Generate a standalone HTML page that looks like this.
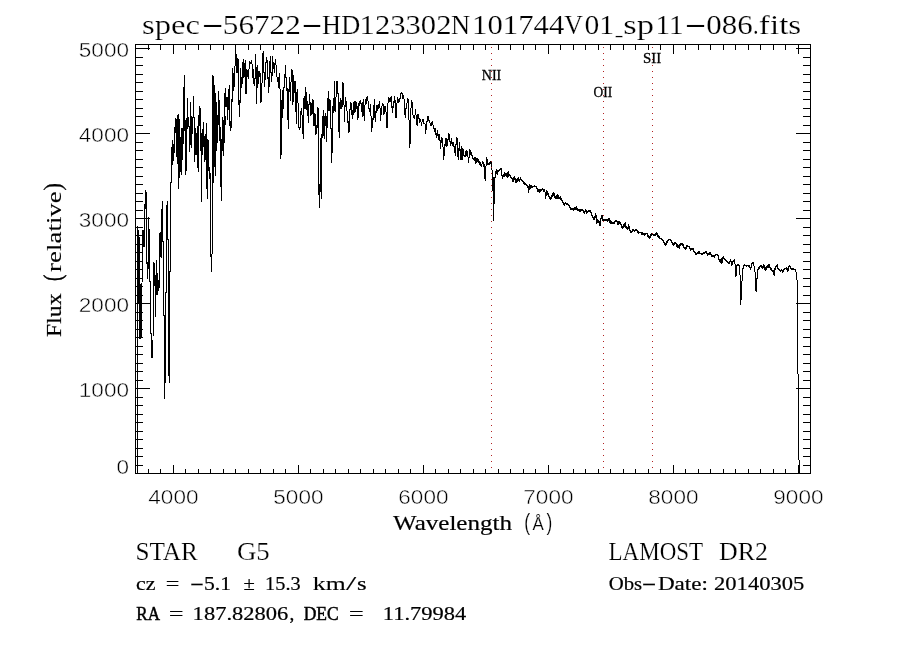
<!DOCTYPE html>
<html lang="en"><head><meta charset="utf-8"><title>spec-56722-HD123302N101744V01_sp11-086.fits</title>
<style>
html,body{margin:0;padding:0;background:#fff;}
body{width:900px;height:650px;overflow:hidden;}
svg{display:block;will-change:transform;}
text{fill:#000;}
.ser{font-family:"Liberation Serif","DejaVu Serif",serif;}
.san{font-family:"Liberation Sans","DejaVu Sans",sans-serif;}
.thin{stroke:#fff;stroke-width:0.45px;paint-order:fill;}
.med{stroke:#000;}
.t2{stroke:#fff;stroke-width:0.2px;paint-order:fill;}
</style></head><body>
<svg width="900" height="650" viewBox="0 0 900 650">
<rect x="0" y="0" width="900" height="650" fill="#fff"/>
<path d="M135 44.5H811M135 473.5H811M135.5 44V474M810.5 44V474M148.5 45v5M148.5 473v-4M160.5 45v5M160.5 473v-4M173.5 45v9M173.5 473v-8M185.5 45v5M185.5 473v-4M198.5 45v5M198.5 473v-4M210.5 45v5M210.5 473v-4M223.5 45v5M223.5 473v-4M235.5 45v5M235.5 473v-4M248.5 45v5M248.5 473v-4M260.5 45v5M260.5 473v-4M273.5 45v5M273.5 473v-4M285.5 45v5M285.5 473v-4M298.5 45v9M298.5 473v-8M310.5 45v5M310.5 473v-4M323.5 45v5M323.5 473v-4M335.5 45v5M335.5 473v-4M348.5 45v5M348.5 473v-4M360.5 45v5M360.5 473v-4M373.5 45v5M373.5 473v-4M385.5 45v5M385.5 473v-4M398.5 45v5M398.5 473v-4M410.5 45v5M410.5 473v-4M423.5 45v9M423.5 473v-8M435.5 45v5M435.5 473v-4M448.5 45v5M448.5 473v-4M460.5 45v5M460.5 473v-4M473.5 45v5M473.5 473v-4M485.5 45v5M485.5 473v-4M498.5 45v5M498.5 473v-4M510.5 45v5M510.5 473v-4M523.5 45v5M523.5 473v-4M535.5 45v5M535.5 473v-4M548.5 45v9M548.5 473v-8M560.5 45v5M560.5 473v-4M573.5 45v5M573.5 473v-4M585.5 45v5M585.5 473v-4M598.5 45v5M598.5 473v-4M610.5 45v5M610.5 473v-4M623.5 45v5M623.5 473v-4M635.5 45v5M635.5 473v-4M648.5 45v5M648.5 473v-4M660.5 45v5M660.5 473v-4M673.5 45v9M673.5 473v-8M685.5 45v5M685.5 473v-4M698.5 45v5M698.5 473v-4M710.5 45v5M710.5 473v-4M723.5 45v5M723.5 473v-4M735.5 45v5M735.5 473v-4M748.5 45v5M748.5 473v-4M760.5 45v5M760.5 473v-4M773.5 45v5M773.5 473v-4M785.5 45v5M785.5 473v-4M798.5 45v9M798.5 473v-8M136 465.5h7M810 465.5h-7M136 456.5h7M810 456.5h-7M136 448.5h7M810 448.5h-7M136 439.5h7M810 439.5h-7M136 431.5h7M810 431.5h-7M136 422.5h7M810 422.5h-7M136 414.5h7M810 414.5h-7M136 405.5h7M810 405.5h-7M136 397.5h7M810 397.5h-7M136 388.5h14M810 388.5h-14M136 380.5h7M810 380.5h-7M136 371.5h7M810 371.5h-7M136 363.5h7M810 363.5h-7M136 354.5h7M810 354.5h-7M136 346.5h7M810 346.5h-7M136 337.5h7M810 337.5h-7M136 329.5h7M810 329.5h-7M136 320.5h7M810 320.5h-7M136 312.5h7M810 312.5h-7M136 303.5h14M810 303.5h-14M136 295.5h7M810 295.5h-7M136 286.5h7M810 286.5h-7M136 278.5h7M810 278.5h-7M136 269.5h7M810 269.5h-7M136 261.5h7M810 261.5h-7M136 252.5h7M810 252.5h-7M136 244.5h7M810 244.5h-7M136 235.5h7M810 235.5h-7M136 227.5h7M810 227.5h-7M136 218.5h14M810 218.5h-14M136 210.5h7M810 210.5h-7M136 201.5h7M810 201.5h-7M136 193.5h7M810 193.5h-7M136 184.5h7M810 184.5h-7M136 176.5h7M810 176.5h-7M136 167.5h7M810 167.5h-7M136 159.5h7M810 159.5h-7M136 150.5h7M810 150.5h-7M136 142.5h7M810 142.5h-7M136 133.5h14M810 133.5h-14M136 125.5h7M810 125.5h-7M136 116.5h7M810 116.5h-7M136 108.5h7M810 108.5h-7M136 99.5h7M810 99.5h-7M136 91.5h7M810 91.5h-7M136 82.5h7M810 82.5h-7M136 74.5h7M810 74.5h-7M136 65.5h7M810 65.5h-7M136 57.5h7M810 57.5h-7M136 48.5h14M810 48.5h-14" stroke="#000" stroke-width="1" fill="none" shape-rendering="crispEdges"/>
<path d="M137.5 226V474M138.5 230V303M139.5 237V339M140.5 284V339M141.5 283V337M142.5 230V282M143.5 230V247M144.5 204V247M145.5 190V209M146.5 192V264M147.5 262V279M148.5 217V269M149.5 218V219M149.5 229V282M150.5 281V334M151.5 333V358M152.5 340V358M153.5 262V336M154.5 263V286M155.5 275V317M156.5 260V295M157.5 273V295M158.5 280V291M159.5 233V288M160.5 232V257M161.5 209V258M162.5 201V242M163.5 241V316M164.5 315V399M165.5 292V383M166.5 205V293M167.5 201V240M168.5 239V376M169.5 271V383M170.5 182V272M171.5 147V183M172.5 140V165M173.5 144V161M174.5 127V153M175.5 118V133M176.5 119V157M177.5 115V164M178.5 114V189M179.5 119V178M180.5 137V172M181.5 128V175M182.5 128V160M183.5 87V144M184.5 75V131M185.5 120V175M186.5 118V171M187.5 98V129M188.5 117V127M189.5 126V152M190.5 102V145M191.5 116V148M192.5 117V134M193.5 96V118M194.5 117V162M195.5 128V155M196.5 133V155M197.5 126V168M198.5 115V172M199.5 106V126M200.5 108V151M201.5 133V202M202.5 129V155M203.5 122V147M204.5 136V162M205.5 134V160M206.5 123V189M207.5 139V199M208.5 140V171M209.5 167V179M210.5 173V257M211.5 254V272M212.5 75V254M213.5 76V183M214.5 85V167M215.5 93V176M216.5 102V151M217.5 115V143M218.5 91V125M219.5 100V141M220.5 127V187M221.5 139V201M222.5 117V151M223.5 120V156M224.5 93V143M225.5 88V107M225.5 116V125M226.5 97V107M227.5 97V120M228.5 89V110M229.5 85V126M230.5 121V131M231.5 99V128M232.5 68V102M233.5 73V91M234.5 66V87M235.5 44V66M236.5 54V73M237.5 58V73M238.5 59V105M239.5 100V117M240.5 68V103M241.5 77V88M242.5 62V84M243.5 59V78M244.5 63V77M245.5 60V94M246.5 69V94M247.5 70V77M248.5 69V79M249.5 61V69M250.5 62V64M251.5 60V64M252.5 64V78M253.5 69V84M254.5 78V86M255.5 54V79M256.5 67V104M257.5 65V88M258.5 71V84M259.5 71V77M260.5 73V103M261.5 83V102M262.5 53V83M263.5 51V73M264.5 72V87M265.5 62V80M266.5 57V63M267.5 60V79M268.5 77V93M269.5 61V87M270.5 56V73M271.5 72V82M272.5 56V76M273.5 62V69M274.5 63V73M275.5 59V65M276.5 65V77M277.5 77V82M278.5 77V88M279.5 73V89M280.5 89V159M281.5 100V155M282.5 90V118M283.5 87V109M284.5 74V88M285.5 65V78M286.5 77V91M287.5 88V120M288.5 89V129M289.5 77V92M290.5 82V101M291.5 69V82M292.5 70V105M293.5 75V102M294.5 81V93M295.5 81V112M296.5 92V124M297.5 89V103M298.5 103V128M299.5 127V130M300.5 111V128M301.5 108V115M302.5 115V134M303.5 98V139M304.5 96V109M305.5 87V109M306.5 92V110M307.5 101V116M308.5 104V123M309.5 94V105M310.5 102V116M311.5 103V115M312.5 99V114M313.5 100V126M314.5 113V126M315.5 114V135M316.5 125V134M317.5 107V128M318.5 108V195M319.5 184V208M320.5 138V192M321.5 134V199M322.5 116V138M323.5 110V136M324.5 116V139M325.5 113V126M326.5 116V142M327.5 98V128M328.5 91V111M329.5 99V111M330.5 100V129M331.5 128V163M332.5 106V153M333.5 98V113M334.5 81V111M335.5 97V112M336.5 81V97M337.5 81V94M338.5 93V132M339.5 102V138M340.5 98V109M341.5 100V109M342.5 82V107M343.5 83V105M344.5 105V122M345.5 97V107M346.5 101V111M347.5 111V123M348.5 121V133M349.5 109V132M350.5 102V110M351.5 103V115M352.5 110V119M353.5 102V115M354.5 101V113M355.5 101V112M356.5 102V109M357.5 106V120M358.5 103V118M359.5 101V106M360.5 100V104M361.5 103V112M362.5 102V117M363.5 99V116M364.5 105V121M365.5 99V105M366.5 97V104M367.5 96V101M368.5 101V109M369.5 108V112M370.5 104V116M371.5 116V132M372.5 118V128M373.5 105V120M374.5 99V118M375.5 111V122M376.5 105V113M377.5 105V111M378.5 104V109M379.5 101V108M380.5 108V121M381.5 106V115M382.5 103V106M383.5 104V115M384.5 106V114M385.5 106V112M386.5 112V128M387.5 103V128M388.5 97V103M389.5 98V102M390.5 97V102M391.5 96V108M392.5 106V113M393.5 101V108M394.5 96V103M395.5 100V118M396.5 103V118M397.5 97V103M398.5 99V103M399.5 98V102M400.5 93V99M401.5 92V94M402.5 93V99M403.5 95V99M404.5 99V115M405.5 108V118M406.5 103V109M407.5 98V103M408.5 99V120M409.5 120V148M410.5 108V144M411.5 100V108M412.5 102V115M413.5 115V118M414.5 115V119M415.5 109V115M416.5 115V125M417.5 114V126M418.5 114V119M419.5 118V123M420.5 119V122M421.5 122V126M422.5 119V122M423.5 119V124M424.5 123V124M425.5 124V134M426.5 121V130M427.5 116V122M428.5 116V121M429.5 120V123M430.5 123V126M431.5 122V126M432.5 121V125M433.5 125V129M434.5 128V132M435.5 128V135M436.5 133V138M437.5 130V136M438.5 134V140M439.5 134V141M440.5 140V149M441.5 137V143M442.5 138V147M443.5 147V160M444.5 144V156M445.5 138V146M446.5 138V147M447.5 139V146M448.5 133V140M449.5 134V142M450.5 141V146M451.5 138V144M452.5 142V146M453.5 142V147M454.5 146V153M455.5 144V156M456.5 137V145M457.5 138V157M458.5 148V160M459.5 142V151M460.5 149V160M461.5 146V160M462.5 148V160M463.5 149V156M464.5 155V157M465.5 151V157M466.5 150V156M467.5 151V157M468.5 157V163M469.5 149V158M470.5 150V155M471.5 152V156M472.5 155V159M473.5 158V160M474.5 157V161M475.5 157V164M476.5 158V163M477.5 158V162M478.5 159V163M479.5 161V165M480.5 162V166M481.5 164V167M482.5 161V164M483.5 162V167M484.5 164V179M485.5 166V181M486.5 157V166M487.5 159V165M488.5 163V165M489.5 162V165M490.5 161V164M491.5 161V170M492.5 170V191M493.5 177V221M494.5 177V204M495.5 171V178M496.5 169V174M497.5 170V175M498.5 170V172M499.5 169V171M500.5 168V170M501.5 168V176M502.5 175V179M503.5 174V177M504.5 172V177M505.5 173V176M506.5 173V177M507.5 172V178M508.5 171V177M509.5 174V176M510.5 175V178M511.5 177V179M512.5 178V182M513.5 177V182M514.5 176V180M515.5 178V183M516.5 179V183M517.5 178V182M518.5 177V181M519.5 179V182M520.5 177V180M521.5 179V181M522.5 180V182M523.5 181V184M524.5 182V185M525.5 183V185M526.5 184V186M527.5 185V188M528.5 186V193M529.5 184V190M530.5 185V189M531.5 185V188M532.5 186V188M533.5 186V187M534.5 185V187M535.5 186V187M536.5 186V189M537.5 188V192M538.5 189V192M539.5 189V193M540.5 189V192M541.5 189V191M542.5 188V190M543.5 189V192M544.5 189V192M545.5 192V199M546.5 190V196M547.5 191V195M548.5 193V197M549.5 196V199M550.5 197V200M551.5 195V199M552.5 193V197M553.5 192V196M554.5 193V198M555.5 196V199M556.5 195V199M557.5 194V199M558.5 195V199M559.5 197V199M560.5 196V200M561.5 198V201M562.5 200V203M563.5 202V205M564.5 203V206M565.5 202V204M566.5 203V205M567.5 203V205M568.5 204V206M569.5 205V208M570.5 207V210M571.5 208V210M572.5 208V210M573.5 208V211M574.5 207V210M575.5 207V210M576.5 206V210M577.5 208V211M578.5 209V211M579.5 209V212M580.5 209V212M581.5 209V211M582.5 209V211M583.5 210V213M584.5 211V214M585.5 209V212M586.5 210V214M587.5 211V213M588.5 210V212M589.5 210V212M590.5 210V213M591.5 212V216M592.5 215V218M593.5 217V220M594.5 216V220M595.5 213V218M596.5 215V224M597.5 219V223M598.5 220V223M599.5 221V226M600.5 218V226M601.5 215V219M602.5 215V221M603.5 219V221M604.5 219V221M605.5 219V221M606.5 219V221M607.5 219V222M608.5 218V221M609.5 218V223M610.5 220V224M611.5 221V224M612.5 222V224M613.5 222V224M614.5 221V224M615.5 220V222M616.5 220V222M617.5 221V225M618.5 221V225M619.5 221V224M620.5 222V225M621.5 224V228M622.5 226V229M623.5 224V228M624.5 223V227M625.5 222V228M626.5 226V229M627.5 227V230M628.5 224V229M629.5 226V231M630.5 230V233M631.5 231V233M632.5 229V232M633.5 229V231M634.5 230V232M635.5 229V231M636.5 229V231M637.5 230V233M638.5 231V234M639.5 232V233M640.5 232V233M641.5 232V235M642.5 232V235M643.5 233V235M644.5 233V236M645.5 233V235M646.5 233V234M647.5 233V237M648.5 235V238M649.5 236V239M650.5 234V238M651.5 233V236M652.5 233V235M653.5 234V236M654.5 234V236M655.5 233V236M656.5 232V235M657.5 233V237M658.5 235V238M659.5 236V239M660.5 238V239M661.5 238V240M662.5 239V241M663.5 240V243M664.5 242V245M665.5 243V246M666.5 241V245M667.5 240V243M668.5 239V241M669.5 239V240M670.5 239V241M671.5 240V243M672.5 242V245M673.5 243V246M674.5 242V245M675.5 242V244M676.5 243V247M677.5 244V248M678.5 245V248M679.5 244V249M680.5 243V246M681.5 243V245M682.5 243V246M683.5 244V248M684.5 247V249M685.5 247V250M686.5 245V249M687.5 245V247M688.5 246V247M689.5 246V249M690.5 248V251M691.5 248V250M692.5 248V250M693.5 248V252M694.5 251V253M695.5 252V255M696.5 253V255M697.5 252V254M698.5 251V254M699.5 251V254M700.5 253V254M701.5 253V255M702.5 253V255M703.5 252V254M704.5 252V254M705.5 251V253M706.5 251V254M707.5 253V256M708.5 253V255M709.5 252V255M710.5 252V255M711.5 254V257M712.5 255V257M713.5 255V257M714.5 255V258M715.5 254V256M716.5 254V255M717.5 254V256M718.5 255V260M719.5 259V262M720.5 259V263M721.5 258V264M722.5 257V263M723.5 256V259M724.5 258V260M725.5 259V261M726.5 260V262M727.5 261V263M728.5 262V264M729.5 261V264M730.5 259V262M731.5 261V266M732.5 261V265M733.5 260V262M734.5 259V264M735.5 264V277M736.5 265V276M737.5 264V266M738.5 264V266M739.5 265V275M740.5 275V305M741.5 281V300M742.5 268V281M743.5 265V269M744.5 264V266M745.5 265V266M746.5 265V267M747.5 265V266M748.5 265V267M749.5 265V268M750.5 267V270M751.5 263V268M752.5 262V264M753.5 262V266M754.5 266V272M755.5 272V291M756.5 278V292M757.5 269V279M758.5 267V270M759.5 266V269M760.5 265V267M761.5 265V268M762.5 266V269M763.5 264V268M764.5 265V270M765.5 267V271M766.5 266V270M767.5 265V268M768.5 264V268M769.5 264V268M770.5 267V270M771.5 268V271M772.5 270V272M773.5 270V275M774.5 268V276M775.5 266V270M776.5 265V267M777.5 264V269M778.5 268V270M779.5 269V271M780.5 270V272M781.5 269V271M782.5 270V273M783.5 269V272M784.5 268V270M785.5 268V269M786.5 267V270M787.5 268V272M788.5 266V271M789.5 265V267M790.5 266V269M791.5 268V270M792.5 268V270M793.5 268V270M794.5 269V270M795.5 269V272M796.5 272V280M797.5 280V374M798.5 374V460M799.5 460V474" stroke="#000" stroke-width="1" fill="none" shape-rendering="crispEdges"/>
<path d="M491 47.5h1M491 53.5h1M491 59.5h1M491 65.5h1M491 71.5h1M491 77.5h1M491 83.5h1M491 89.5h1M491 95.5h1M491 101.5h1M491 107.5h1M491 113.5h1M491 119.5h1M491 125.5h1M491 131.5h1M491 137.5h1M491 143.5h1M491 149.5h1M491 155.5h1M491 161.5h1M491 167.5h1M491 173.5h1M491 179.5h1M491 185.5h1M491 191.5h1M491 197.5h1M491 203.5h1M491 209.5h1M491 215.5h1M491 221.5h1M491 227.5h1M491 233.5h1M491 239.5h1M491 245.5h1M491 251.5h1M491 257.5h1M491 263.5h1M491 269.5h1M491 275.5h1M491 281.5h1M491 287.5h1M491 293.5h1M491 299.5h1M491 305.5h1M491 311.5h1M491 317.5h1M491 323.5h1M491 329.5h1M491 335.5h1M491 341.5h1M491 347.5h1M491 353.5h1M491 359.5h1M491 365.5h1M491 371.5h1M491 377.5h1M491 383.5h1M491 389.5h1M491 395.5h1M491 401.5h1M491 407.5h1M491 413.5h1M491 419.5h1M491 425.5h1M491 431.5h1M491 437.5h1M491 443.5h1M491 449.5h1M491 455.5h1M491 461.5h1M491 467.5h1M603 47.5h1M603 53.5h1M603 59.5h1M603 65.5h1M603 71.5h1M603 77.5h1M603 83.5h1M603 89.5h1M603 95.5h1M603 101.5h1M603 107.5h1M603 113.5h1M603 119.5h1M603 125.5h1M603 131.5h1M603 137.5h1M603 143.5h1M603 149.5h1M603 155.5h1M603 161.5h1M603 167.5h1M603 173.5h1M603 179.5h1M603 185.5h1M603 191.5h1M603 197.5h1M603 203.5h1M603 209.5h1M603 215.5h1M603 221.5h1M603 227.5h1M603 233.5h1M603 239.5h1M603 245.5h1M603 251.5h1M603 257.5h1M603 263.5h1M603 269.5h1M603 275.5h1M603 281.5h1M603 287.5h1M603 293.5h1M603 299.5h1M603 305.5h1M603 311.5h1M603 317.5h1M603 323.5h1M603 329.5h1M603 335.5h1M603 341.5h1M603 347.5h1M603 353.5h1M603 359.5h1M603 365.5h1M603 371.5h1M603 377.5h1M603 383.5h1M603 389.5h1M603 395.5h1M603 401.5h1M603 407.5h1M603 413.5h1M603 419.5h1M603 425.5h1M603 431.5h1M603 437.5h1M603 443.5h1M603 449.5h1M603 455.5h1M603 461.5h1M603 467.5h1M652 47.5h1M652 53.5h1M652 59.5h1M652 65.5h1M652 71.5h1M652 77.5h1M652 83.5h1M652 89.5h1M652 95.5h1M652 101.5h1M652 107.5h1M652 113.5h1M652 119.5h1M652 125.5h1M652 131.5h1M652 137.5h1M652 143.5h1M652 149.5h1M652 155.5h1M652 161.5h1M652 167.5h1M652 173.5h1M652 179.5h1M652 185.5h1M652 191.5h1M652 197.5h1M652 203.5h1M652 209.5h1M652 215.5h1M652 221.5h1M652 227.5h1M652 233.5h1M652 239.5h1M652 245.5h1M652 251.5h1M652 257.5h1M652 263.5h1M652 269.5h1M652 275.5h1M652 281.5h1M652 287.5h1M652 293.5h1M652 299.5h1M652 305.5h1M652 311.5h1M652 317.5h1M652 323.5h1M652 329.5h1M652 335.5h1M652 341.5h1M652 347.5h1M652 353.5h1M652 359.5h1M652 365.5h1M652 371.5h1M652 377.5h1M652 383.5h1M652 389.5h1M652 395.5h1M652 401.5h1M652 407.5h1M652 413.5h1M652 419.5h1M652 425.5h1M652 431.5h1M652 437.5h1M652 443.5h1M652 449.5h1M652 455.5h1M652 461.5h1M652 467.5h1" stroke="#b22222" stroke-width="1" fill="none" shape-rendering="crispEdges"/>
<text class="ser t2" y="33.7" font-size="26.8" xml:space="preserve" ><tspan x="141.98" textLength="58.04" lengthAdjust="spacingAndGlyphs">spec</tspan><tspan x="201.35" textLength="22.94" lengthAdjust="spacingAndGlyphs" dy="-2">-</tspan><tspan x="222.84" textLength="77.92" lengthAdjust="spacingAndGlyphs" dy="2">56722</tspan><tspan x="300.94" textLength="21.94" lengthAdjust="spacingAndGlyphs" dy="-2">-</tspan><tspan x="322.09" textLength="38.13" lengthAdjust="spacingAndGlyphs" dy="2">HD</tspan><tspan x="359.61" textLength="91.83" lengthAdjust="spacingAndGlyphs">123302</tspan><tspan x="450.89" textLength="19.12" lengthAdjust="spacingAndGlyphs">N</tspan><tspan x="472.10" textLength="92.18" lengthAdjust="spacingAndGlyphs">101744</tspan><tspan x="564.30" textLength="18.59" lengthAdjust="spacingAndGlyphs">V</tspan><tspan x="584.57" textLength="29.61" lengthAdjust="spacingAndGlyphs">01</tspan><tspan x="615.71" textLength="6.59" lengthAdjust="spacingAndGlyphs">_</tspan><tspan x="623.32" textLength="30.76" lengthAdjust="spacingAndGlyphs">sp</tspan><tspan x="655.52" textLength="28.04" lengthAdjust="spacingAndGlyphs">11</tspan><tspan x="684.28" textLength="22.57" lengthAdjust="spacingAndGlyphs" dy="-2">-</tspan><tspan x="706.23" textLength="46.45" lengthAdjust="spacingAndGlyphs" dy="2">086</tspan><tspan x="753.00" textLength="5.60" lengthAdjust="spacingAndGlyphs">.</tspan><tspan x="758.88" textLength="42.41" lengthAdjust="spacingAndGlyphs">fits</tspan></text>
<text class="san thin" x="116.45" y="474" font-size="19.5" textLength="12.55" lengthAdjust="spacingAndGlyphs">0</text>
<text class="san thin" x="78.80" y="397.0" font-size="19.5" textLength="50.20" lengthAdjust="spacingAndGlyphs">1000</text>
<text class="san thin" x="78.80" y="312.0" font-size="19.5" textLength="50.20" lengthAdjust="spacingAndGlyphs">2000</text>
<text class="san thin" x="78.80" y="227.0" font-size="19.5" textLength="50.20" lengthAdjust="spacingAndGlyphs">3000</text>
<text class="san thin" x="78.80" y="142.0" font-size="19.5" textLength="50.20" lengthAdjust="spacingAndGlyphs">4000</text>
<text class="san thin" x="78.80" y="57.0" font-size="19.5" textLength="50.20" lengthAdjust="spacingAndGlyphs">5000</text>
<text class="san thin" x="148.30" y="504" font-size="19.5" textLength="50.20" lengthAdjust="spacingAndGlyphs">4000</text>
<text class="san thin" x="273.30" y="504" font-size="19.5" textLength="50.20" lengthAdjust="spacingAndGlyphs">5000</text>
<text class="san thin" x="398.30" y="504" font-size="19.5" textLength="50.20" lengthAdjust="spacingAndGlyphs">6000</text>
<text class="san thin" x="523.30" y="504" font-size="19.5" textLength="50.20" lengthAdjust="spacingAndGlyphs">7000</text>
<text class="san thin" x="648.30" y="504" font-size="19.5" textLength="50.20" lengthAdjust="spacingAndGlyphs">8000</text>
<text class="san thin" x="773.30" y="504" font-size="19.5" textLength="50.20" lengthAdjust="spacingAndGlyphs">9000</text>
<text class="ser med" y="530.0" font-size="21.4" xml:space="preserve" ><tspan x="393.00" textLength="119.00" lengthAdjust="spacingAndGlyphs" stroke-width="0.20">Wavelength</tspan><tspan> </tspan><tspan x="524.17" textLength="5.92" lengthAdjust="spacingAndGlyphs" font-size="24" font-family="Liberation Sans, sans-serif" stroke="#fff" stroke-width="0.2" paint-order="fill">(</tspan><tspan x="532.60" textLength="11.32" lengthAdjust="spacingAndGlyphs" font-size="19" font-family="Liberation Sans, sans-serif" stroke="#fff" stroke-width="0.2" paint-order="fill">Å</tspan><tspan x="546.60" textLength="5.80" lengthAdjust="spacingAndGlyphs" font-size="24" font-family="Liberation Sans, sans-serif" stroke="#fff" stroke-width="0.2" paint-order="fill">)</tspan></text>
<g transform="translate(61 337) rotate(-90)">
<text class="ser med" y="0" font-size="21.4" xml:space="preserve" ><tspan x="0.03" textLength="43.57" lengthAdjust="spacingAndGlyphs" stroke-width="0.20">Flux</tspan><tspan> </tspan><tspan x="56.11" textLength="6.28" lengthAdjust="spacingAndGlyphs" font-size="26" stroke-width="0.50">(</tspan><tspan x="65.08" textLength="80.71" lengthAdjust="spacingAndGlyphs" stroke-width="0.08">relative</tspan><tspan x="146.27" textLength="7.77" lengthAdjust="spacingAndGlyphs" font-size="26" stroke-width="0.20">)</tspan></text>
</g>
<text class="ser t2" y="560" font-size="26" xml:space="preserve" ><tspan x="135.42" textLength="62.45" lengthAdjust="spacingAndGlyphs">STAR</tspan><tspan>   </tspan><tspan x="236.96" textLength="32.78" lengthAdjust="spacingAndGlyphs">G5</tspan></text>
<text class="ser med" y="590" font-size="19.8" xml:space="preserve" ><tspan x="136.01" textLength="19.47" lengthAdjust="spacingAndGlyphs" stroke-width="0.20">cz</tspan><tspan> </tspan><tspan x="165.87" textLength="13.60" lengthAdjust="spacingAndGlyphs" stroke-width="0.20">=</tspan><tspan> </tspan><tspan x="189.65" textLength="14.42" lengthAdjust="spacingAndGlyphs" dy="-1" stroke-width="0.08">-</tspan><tspan x="203.99" textLength="27.03" lengthAdjust="spacingAndGlyphs" dy="1" stroke-width="0.20">5.1</tspan><tspan> </tspan><tspan x="243.55" textLength="11.33" lengthAdjust="spacingAndGlyphs" stroke-width="0.20">±</tspan><tspan> </tspan><tspan x="265.11" textLength="35.52" lengthAdjust="spacingAndGlyphs" stroke-width="0.21">15.3</tspan><tspan> </tspan><tspan x="312.80" textLength="32.81" lengthAdjust="spacingAndGlyphs" stroke-width="0.08">km</tspan><tspan x="346.00" textLength="10.27" lengthAdjust="spacingAndGlyphs" stroke-width="0.08">/</tspan><tspan x="357.03" textLength="9.61" lengthAdjust="spacingAndGlyphs" stroke-width="0.20">s</tspan></text>
<text class="ser med" y="620" font-size="19.8" xml:space="preserve" ><tspan x="136.34" textLength="22.71" lengthAdjust="spacingAndGlyphs" stroke-width="0.50">RA</tspan><tspan> </tspan><tspan x="168.76" textLength="14.92" lengthAdjust="spacingAndGlyphs" stroke-width="0.08">=</tspan><tspan> </tspan><tspan x="192.64" textLength="95.71" lengthAdjust="spacingAndGlyphs" stroke-width="0.20">187.82806</tspan><tspan x="289.40" textLength="4.80" lengthAdjust="spacingAndGlyphs" stroke-width="0.32">,</tspan><tspan> </tspan><tspan x="303.73" textLength="35.01" lengthAdjust="spacingAndGlyphs" stroke-width="0.50">DEC</tspan><tspan> </tspan><tspan x="348.74" textLength="15.16" lengthAdjust="spacingAndGlyphs" stroke-width="0.08">=</tspan><tspan>  </tspan><tspan x="382.84" textLength="83.51" lengthAdjust="spacingAndGlyphs" stroke-width="0.20">11.79984</tspan></text>
<text class="ser t2" y="560" font-size="26" xml:space="preserve" ><tspan x="608.54" textLength="94.19" lengthAdjust="spacingAndGlyphs">LAMOST</tspan><tspan> </tspan><tspan x="719.10" textLength="48.92" lengthAdjust="spacingAndGlyphs">DR2</tspan></text>
<text class="ser med" y="590" font-size="19.8" xml:space="preserve" ><tspan x="608.65" textLength="33.47" lengthAdjust="spacingAndGlyphs" stroke-width="0.20">Obs</tspan><tspan x="641.59" textLength="15.04" lengthAdjust="spacingAndGlyphs" dy="-1.5" stroke-width="0.08">-</tspan><tspan x="657.94" textLength="49.99" lengthAdjust="spacingAndGlyphs" dy="1.5" stroke-width="0.20">Date:</tspan><tspan> </tspan><tspan x="714.10" textLength="90.11" lengthAdjust="spacingAndGlyphs" stroke-width="0.20">20140305</tspan></text>
<text class="ser " y="80" font-size="15" xml:space="preserve" stroke="#000" stroke-width="0.3"><tspan x="481.78" textLength="19.51" lengthAdjust="spacingAndGlyphs">NII</tspan></text>
<text class="ser " y="97" font-size="15" xml:space="preserve" stroke="#000" stroke-width="0.3"><tspan x="593.58" textLength="18.70" lengthAdjust="spacingAndGlyphs">OII</tspan></text>
<text class="ser " y="63" font-size="15" xml:space="preserve" stroke="#000" stroke-width="0.3"><tspan x="643.07" textLength="18.24" lengthAdjust="spacingAndGlyphs">SII</tspan></text>
</svg></body></html>
